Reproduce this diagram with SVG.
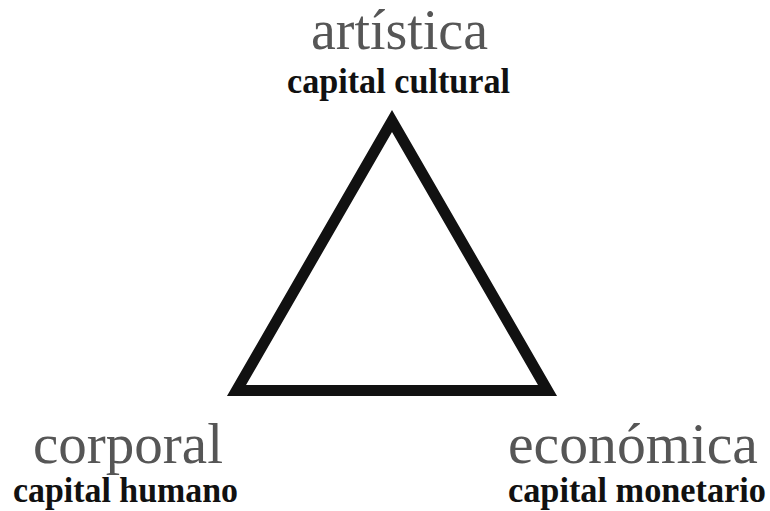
<svg xmlns="http://www.w3.org/2000/svg" width="770" height="511" viewBox="0 0 770 511">
  <style>
    .t1 { font-family: "Liberation Serif", "Times New Roman", serif; font-size: 56px; fill: #565656; }
    .t2 { font-family: "Liberation Serif", "Times New Roman", serif; font-size: 35px; font-weight: bold; fill: #111111; }
    .tri { fill: #ffffff; stroke: #111111; stroke-width: 11; stroke-linejoin: miter; stroke-miterlimit: 10; }
  </style>
  <rect x="0" y="0" width="770" height="511" fill="#ffffff"/>
  <g id="connectors">
    <polygon class="tri" points="392,121 236.5,390.5 547.5,390.5"/>
  </g>
  <g id="node-artistica">
    <text class="t1" x="311" y="49" textLength="177" lengthAdjust="spacingAndGlyphs">artística</text>
    <text class="t2" x="287" y="93" textLength="223" lengthAdjust="spacingAndGlyphs">capital cultural</text>
  </g>
  <g id="node-corporal">
    <text class="t1" x="33" y="463" textLength="190" lengthAdjust="spacingAndGlyphs">corporal</text>
    <text class="t2" x="13" y="502" textLength="225" lengthAdjust="spacingAndGlyphs">capital humano</text>
  </g>
  <g id="node-economica">
    <text class="t1" x="508" y="463" textLength="250" lengthAdjust="spacingAndGlyphs">económica</text>
    <text class="t2" x="508" y="502" textLength="258" lengthAdjust="spacingAndGlyphs">capital monetario</text>
  </g>
</svg>
